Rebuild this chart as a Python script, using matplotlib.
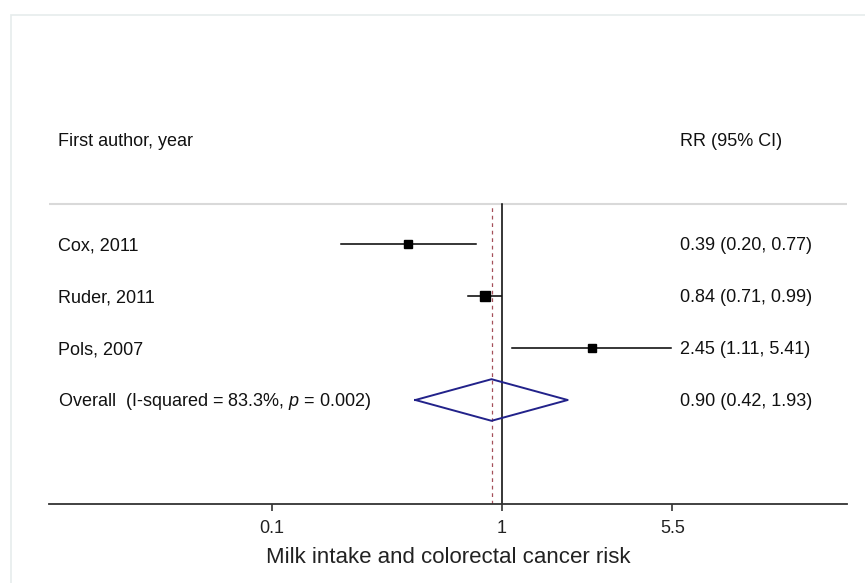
import matplotlib.pyplot as plt
from matplotlib.patches import Rectangle
from matplotlib.transforms import blended_transform_factory

plt.rcParams["font.family"] = ["Liberation Sans", "DejaVu Sans"]
plt.rcParams["mathtext.fontset"] = "custom"
plt.rcParams["mathtext.rm"] = "Liberation Sans"
plt.rcParams["mathtext.it"] = "Liberation Sans:italic"

studies = ["Cox, 2011", "Ruder, 2011", "Pols, 2007"]
rr = [0.39, 0.84, 2.45]
ci_low = [0.20, 0.71, 1.11]
ci_high = [0.77, 0.99, 5.41]

pooled_rr = 0.90
pooled_low = 0.42
pooled_high = 1.93
i_squared = 83.3
p_het = 0.002

tick_values = [0.1, 1, 5.5]
tick_labels = ["0.1", "1", "5.5"]

box_sizes = [6.0, 6.6, 5.8]


def main() -> None:
    fig = plt.figure(figsize=(8.65, 5.83), dpi=100)
    fig.patches.append(Rectangle((11 / 865, -0.01), 1.0, (583 - 15) / 583 + 0.01,
                                 transform=fig.transFigure, fill=False,
                                 edgecolor="#e6ecec", linewidth=1.2))
    ax = fig.add_axes([49 / 865, (583 - 504) / 583, 798 / 865, 468 / 583])
    ax.set_xscale("log")
    ax.set_xlim(10 ** -1.97, 10 ** 1.5)
    ax.set_ylim(0, 9)

    for s in ["top", "right", "left"]:
        ax.spines[s].set_visible(False)
    ax.spines["bottom"].set_linewidth(1.3)
    ax.spines["bottom"].set_color("#333333")
    ax.set_yticks([])
    ax.minorticks_off()
    ax.set_xticks(tick_values)
    ax.set_xticklabels(tick_labels)
    ax.tick_params(axis="x", length=5, width=1.2, color="#333333",
                   labelsize=13, pad=6.5, labelcolor="#222222")
    ax.set_xlabel("Milk intake and colorectal cancer risk", fontsize=16,
                  labelpad=7.5, color="#222222")

    n = len(studies)
    ys = [n + 2 - i for i in range(n)]
    pooled_y = 2
    top_line = 5.77

    ax.axhline(top_line, color="#d9d9d9", linewidth=1.5)
    ax.plot([1, 1], [0, top_line], color="black", linewidth=1.1)
    ax.plot([pooled_rr, pooled_rr], [0, top_line], color="#a5505a",
            linewidth=0.9, linestyle=(0, (3, 3)))

    for y, r, lo, hi, ms in zip(ys, rr, ci_low, ci_high, box_sizes):
        ax.plot([lo, hi], [y, y], color="black", linewidth=1.1)
        ax.plot(r, y, marker="s", color="black", markersize=ms)

    h = 0.4
    ax.plot([pooled_low, pooled_rr, pooled_high, pooled_rr, pooled_low],
            [pooled_y, pooled_y + h, pooled_y, pooled_y - h, pooled_y],
            color="#22228a", linewidth=1.4)

    tr = blended_transform_factory(ax.transAxes, ax.transData)
    left_x = (58 - 49) / 798
    right_x = (680 - 49) / 798
    dy = -0.125  # baseline sits below the row centre
    kw = dict(transform=tr, fontsize=13, va="baseline", color="#111111")

    ax.text(left_x, 7 + dy, "First author, year", **kw)
    ax.text(right_x, 7 + dy, "RR (95% CI)", **kw)
    for y, name, r, lo, hi in zip(ys, studies, rr, ci_low, ci_high):
        ax.text(left_x, y + dy, name, **kw)
        ax.text(right_x, y + dy, f"{r:.2f} ({lo:.2f}, {hi:.2f})", **kw)
    ax.text(left_x, pooled_y + dy,
            f"Overall  (I-squared = {i_squared:.1f}%, $p$ = {p_het:.3f})", **kw)
    ax.text(right_x, pooled_y + dy,
            f"{pooled_rr:.2f} ({pooled_low:.2f}, {pooled_high:.2f})", **kw)

    fig.savefig("out.png", dpi=100)
    plt.close(fig)


if __name__ == "__main__":
    main()
